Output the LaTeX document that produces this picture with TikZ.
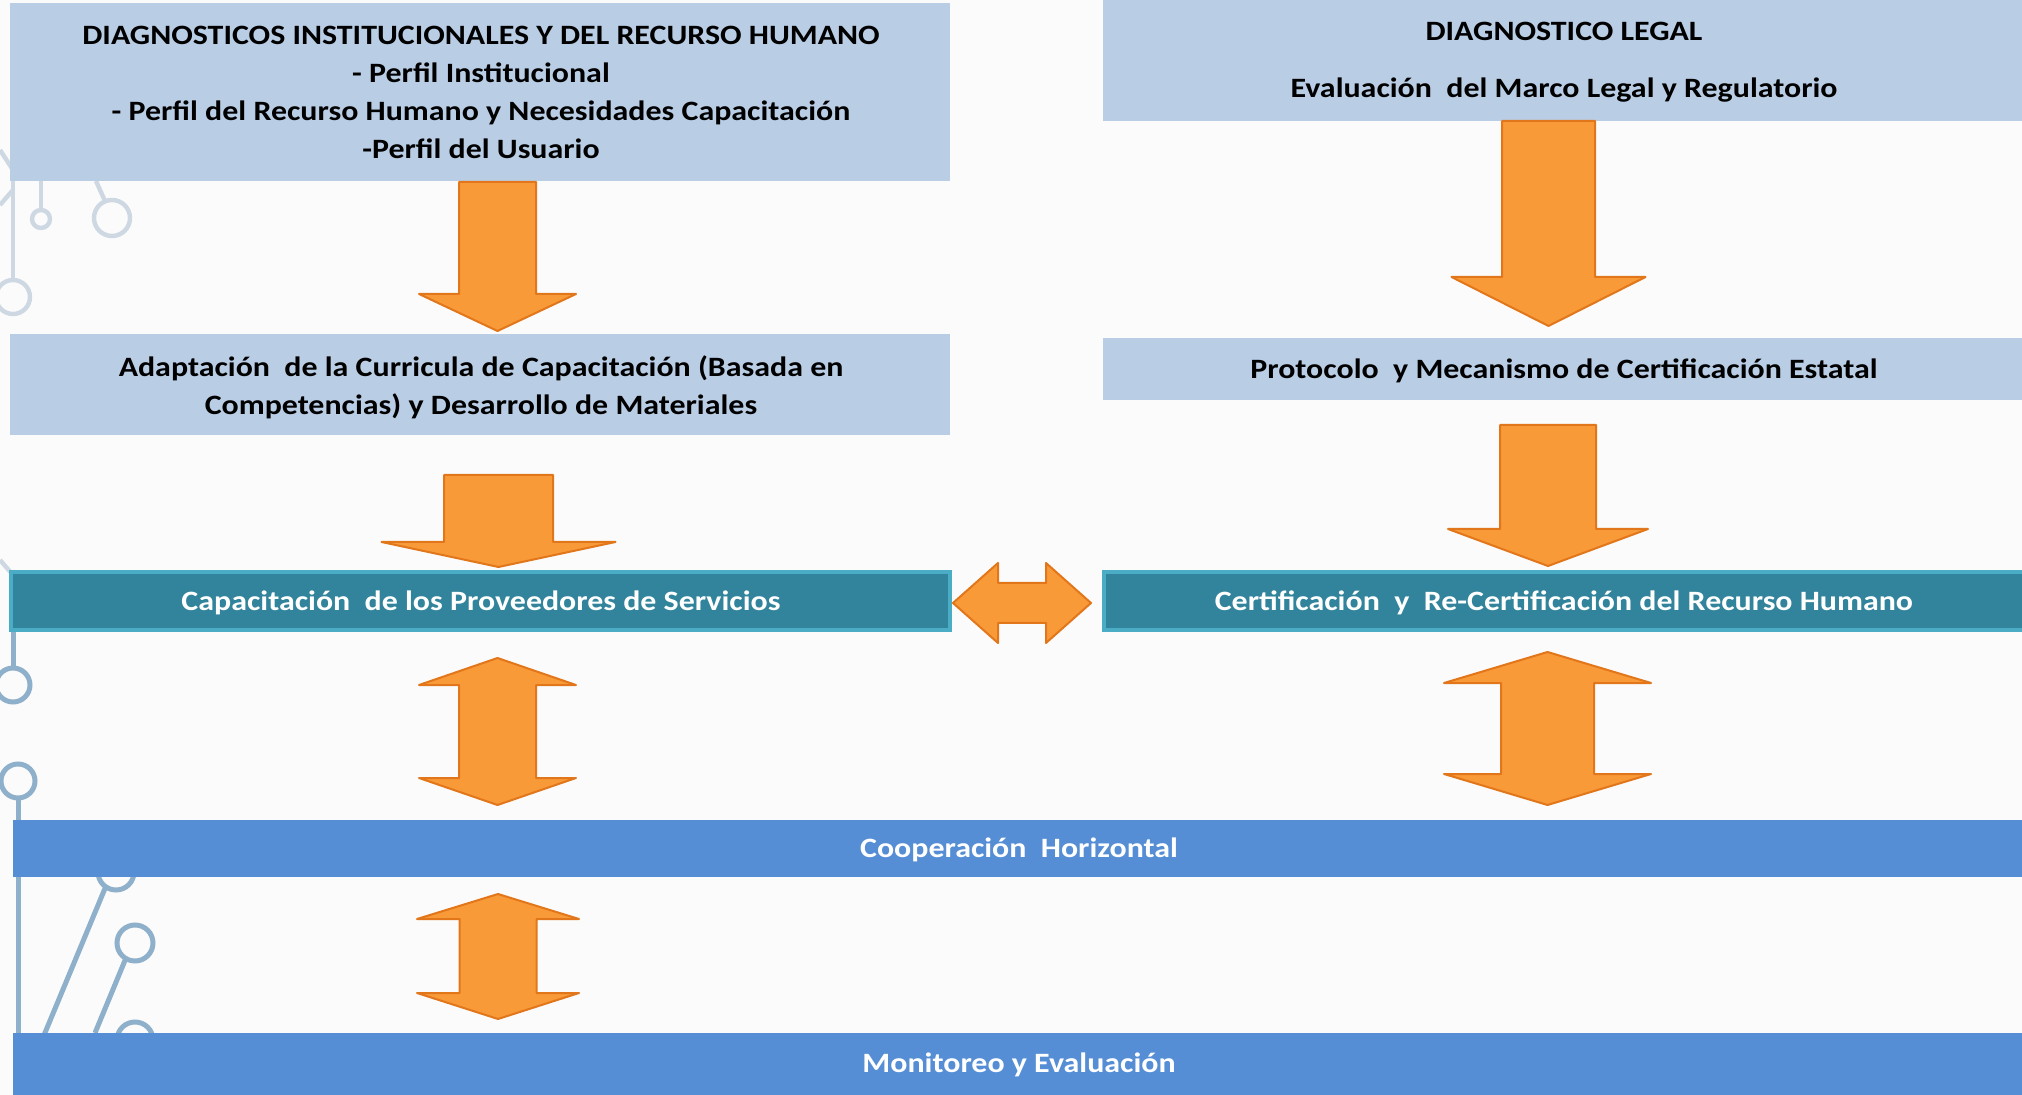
\documentclass[tikz,border=0pt]{standalone}
\usepackage{fontspec}
\setmainfont{Carlito}[FakeStretch=1.14]
\definecolor{lightbox}{HTML}{B9CDE5}
\definecolor{tealfill}{HTML}{31849B}
\definecolor{tealedge}{HTML}{4BACC6}
\definecolor{barblue}{HTML}{558ED5}
\definecolor{arrowfill}{HTML}{F99A38}
\definecolor{arrowedge}{HTML}{E2761A}
\definecolor{circA}{HTML}{CDD8E3}
\definecolor{circB}{HTML}{8FB0CA}
\definecolor{bgcol}{HTML}{FBFBFB}
\tikzset{
  lightbox/.style={fill=lightbox, draw=none, inner sep=0pt, anchor=north west},
  tealbox/.style={fill=tealfill, draw=tealedge, line width=2pt},
  barbox/.style={fill=barblue, draw=none, inner sep=0pt, anchor=north west},
  blockarrow/.style={fill=arrowfill, draw=arrowedge, line width=1pt, line join=round},
  txt/.style={font=\fontsize{14}{19}\selectfont\bfseries, align=center, inner sep=0pt},
  wtxt/.style={txt, text=white},
  circA/.style={draw=circA, line width=2.2pt},
  circB/.style={draw=circB, line width=2.5pt},
}
% vertical down arrow: cx, top, shaft half, head half, head base, tip
\newcommand\myDownArrow[6]{%
  \draw[blockarrow] (#1-#3,#2) -- (#1+#3,#2) -- (#1+#3,#5) -- (#1+#4,#5) -- (#1,#6)
    -- (#1-#4,#5) -- (#1-#3,#5) -- cycle;}
% vertical double arrow: cx, top tip, top base, bottom base, bottom tip, shaft half, head half
\newcommand\myUpDownArrow[7]{%
  \draw[blockarrow] (#1,#2) -- (#1+#7,#3) -- (#1+#6,#3) -- (#1+#6,#4) -- (#1+#7,#4)
    -- (#1,#5) -- (#1-#7,#4) -- (#1-#6,#4) -- (#1-#6,#3) -- (#1-#7,#3) -- cycle;}
\begin{document}
\begin{tikzpicture}[x=0.5pt,y=-0.5pt]
\useasboundingbox (0,0) rectangle (2022,1095);
\fill[bgcol] (0,0) rectangle (2022,1095);

% circuit decoration (left side)
\draw[circA] (0,150) -- (13,170);
\draw[circA] (13,170) -- (13,280);
\draw[circA] (0,205) -- (13,190);
\draw[circA] (41,181) -- (41,210);
\draw[circA] (41,219) circle (9);
\draw[circA] (96,181) -- (105,201);
\draw[circA] (112,218) circle (18);
\draw[circA] (13,297) circle (17);
\draw[circA] (0,560) -- (13,575);
\draw[circB] (13,631) -- (13,668);
\draw[circB] (13,685) circle (17);
\draw[circB] (18,781) circle (17);
\draw[circB] (18,798) -- (18,1095);
\draw[circB] (116,872) circle (18);
\draw[circB] (106,886) -- (42,1040);
\draw[circB] (135,943) circle (18);
\draw[circB] (126,958) -- (95,1033);
\draw[circB] (135,1040) circle (18);

% boxes
\node[lightbox, minimum width=470pt, minimum height=89pt] (diag) at (10,3) {};
\node[txt] (diagt) at (481,92) {DIAGNOSTICOS INSTITUCIONALES Y DEL RECURSO HUMANO\\
 - Perfil Institucional\\ - Perfil del Recurso Humano y Necesidades Capacitación\\ -Perfil del Usuario};

\node[lightbox, minimum width=459.5pt, minimum height=60.5pt] (legal) at (1103,0) {};
\node[txt] (legalt1) at (1564,31) {DIAGNOSTICO LEGAL};
\node[txt] (legalt2) at (1564,90) {Evaluación\ \ del Marco Legal y Regulatorio};

\node[lightbox, minimum width=470pt, minimum height=50.5pt] (adapt) at (10,334) {};
\node[txt] (adaptt) at (481,387) {Adaptación\ \ de la Curricula de Capacitación (Basada en\\ Competencias) y Desarrollo de Materiales};

\node[lightbox, minimum width=459.5pt, minimum height=31pt] (proto) at (1103,338) {};
\node[txt] (protot) at (1564,371) {Protocolo\ \ y Mecanismo de Certificación Estatal};

\draw[tealbox] (11,572) rectangle (950,630);
\node[wtxt] (capt) at (481,603) {Capacitación\ \ de los Proveedores de Servicios};
\draw[tealbox] (1104,572) rectangle (2030,630);
\node[wtxt] (certt) at (1564,603) {Certificación\ \ y\ \ Re-Certificación del Recurso Humano};

\node[barbox, minimum width=1004.5pt, minimum height=28.5pt] (coop) at (13,820) {};
\node[wtxt] (coopt) at (1019,850) {Cooperación\ \ Horizontal};
\node[barbox, minimum width=1004.5pt, minimum height=31pt] (mon) at (13,1033) {};
\node[wtxt] (mont) at (1019,1065) {Monitoreo y Evaluación};

% block arrows
\myDownArrow{497.5}{182}{38.5}{78.5}{294}{331}
\myDownArrow{498.5}{475}{54.5}{117}{542}{567}
\myDownArrow{1548.5}{121}{46.5}{97}{277}{326}
\myDownArrow{1548}{425}{48}{100}{529}{566}
\draw[blockarrow] (953,603) -- (998,563) -- (998,583) -- (1046,583) -- (1046,563) -- (1091,603)
  -- (1046,643) -- (1046,623) -- (998,623) -- (998,643) -- cycle;
\myUpDownArrow{497.5}{658}{685}{778}{805}{38.5}{78.5}
\myUpDownArrow{1547.5}{652}{683}{774}{805}{46.5}{103.5}
\myUpDownArrow{498}{894}{919}{993}{1019}{38.5}{81}
\end{tikzpicture}
\end{document}
